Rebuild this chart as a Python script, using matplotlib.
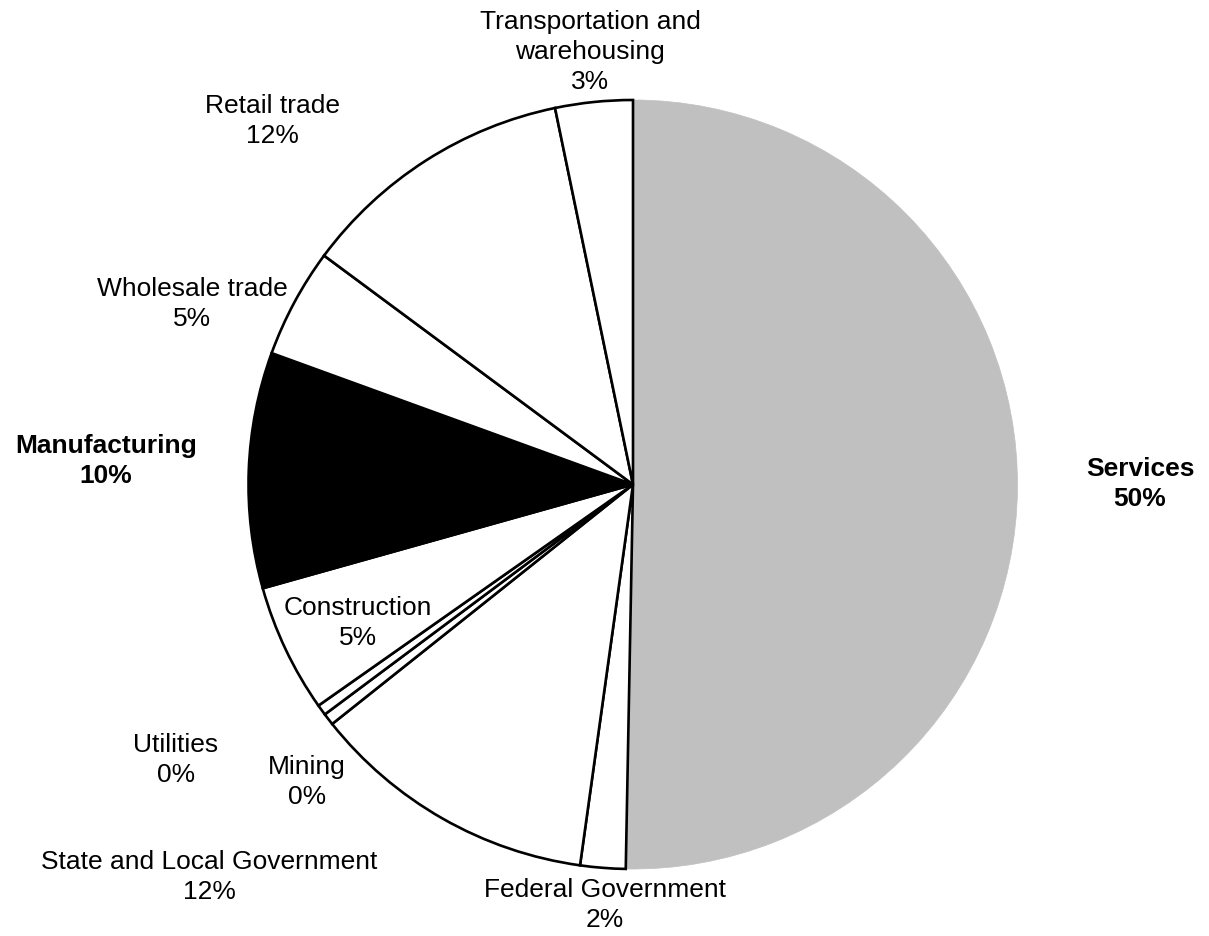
import matplotlib
matplotlib.use("Agg")
import matplotlib.pyplot as plt

plt.rcParams['font.family'] = ['Liberation Sans', 'DejaVu Sans']

# share of total, clockwise from 12 o'clock
sectors = ["Services", "Federal Government", "State and Local Government",
           "Mining", "Utilities", "Construction", "Manufacturing",
           "Wholesale trade", "Retail trade", "Transportation and\nwarehousing"]
shares = [50.3, 1.9, 12.1, 0.5, 0.45, 5.4, 9.9, 4.6, 11.6, 3.25]
fills = ["#c0c0c0", "white", "white", "white", "white", "white", "black",
         "white", "white", "white"]
bold = ["Services", "Manufacturing"]

W, H = 1209, 937
# label centres in pixel coords (x from left, y from top)
label_xy = [(1140, 484), (605, 905), (209, 877), (307, 782), (176, 760),
            (358, 623), (106, 461), (192, 304), (272, 121), (590, 52)]

fig = plt.figure(figsize=(W / 100, H / 100), dpi=100)
ax = fig.add_axes([0, 0, 1, 1])

wedges, _ = ax.pie(shares, colors=fills, startangle=90, counterclock=False,
                   center=(633, H - 485.5), radius=384.5, frame=True,
                   wedgeprops=dict(edgecolor="black", linewidth=1.9))
wedges[0].set_edgecolor(fills[0])
wedges[0].set_linewidth(0.5)
ax.set_xlim(0, W)
ax.set_ylim(0, H)
ax.set_aspect("equal")
ax.axis("off")

for name, val, (x, y) in zip(sectors, shares, label_xy):
    ax.text(x, H - y, f"{name}\n{val:.0f}%", ha="center", va="center",
            fontsize=19, linespacing=1.32,
            fontweight="bold" if name in bold else "normal")

fig.savefig("out.png", dpi=100, facecolor="white")
